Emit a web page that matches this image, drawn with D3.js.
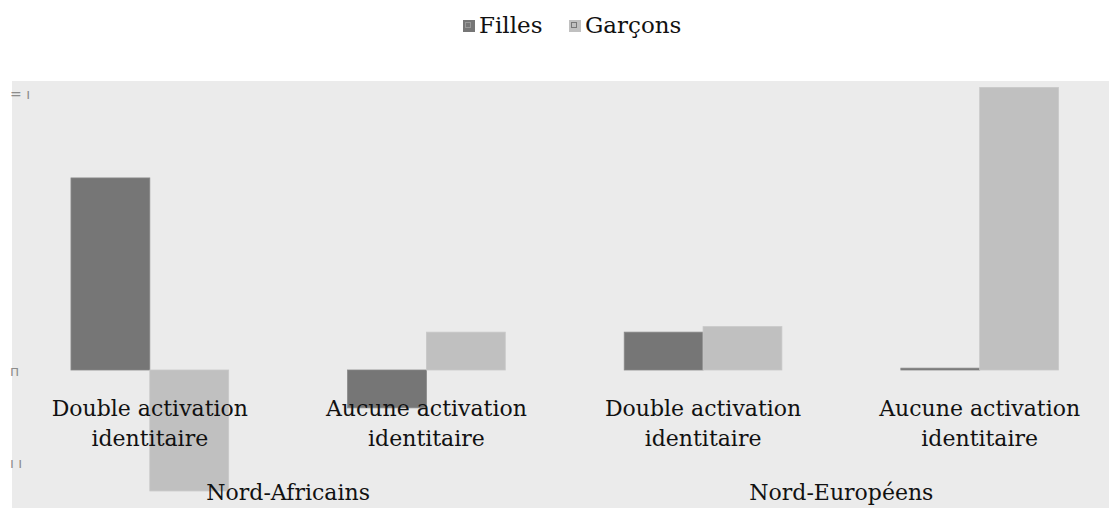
<!DOCTYPE html>
<html>
<head>
<meta charset="utf-8">
<script src="https://cdn.jsdelivr.net/npm/d3@7"></script>
<style>
  body { margin: 0; background: #fff; }
  text { font-family: "DejaVu Serif", serif; }
</style>
</head>
<body>
<script>
'use strict';

// categories and values
const groups = ["Nord-Africains", "Nord-Européens"];
const categories = ["Double activation identitaire", "Aucune activation identitaire"];
const series = ["Filles", "Garçons"];
const filles = [0.208, -0.041, 0.041, 0.002];
const garcons = [-0.131, 0.041, 0.047, 0.306];
const colors = { "Filles": "#767676", "Garçons": "#c0c0c0" };
// y tick labels are clipped to little stubs in the original
const yTicks = [0.3, 0, -0.1];
const yTickStubs = ["= ı", "п", "ı ı"];

(function() {
  const W = 1109, H = 508;
  const svg = d3.select('body').append('svg')
    .attr('width', W)
    .attr('height', H);

  // one slot per group/category pair
  let slots = [];
  groups.forEach((g, gi) => categories.forEach((c, ci) => slots.push({ g: g, c: c, i: gi * 2 + ci })));

  const x = d3.scaleBand()
    .domain(slots.map(d => d.i))
    .range([11.5, 1118])
    .paddingInner(0.43)
    .paddingOuter(0.215);

  const xs = d3.scaleBand()
    .domain(series)
    .range([0, x.bandwidth()]);

  const y = d3.scaleLinear()
    .domain([0, 0.3])
    .range([370, 93]);

  // plot background
  svg.append('rect')
    .attr('x', 12).attr('y', 81)
    .attr('width', W - 12).attr('height', H - 81)
    .attr('fill', '#ebebeb');

  // bars
  const rows = slots.map(d => ({ i: d.i, Filles: filles[d.i], "Garçons": garcons[d.i] }));
  series.forEach(s => {
    svg.append('g').selectAll('rect')
      .data(rows)
      .enter()
      .append('rect')
        .attr('x', d => x(d.i) + xs(s))
        .attr('width', xs.bandwidth())
        .attr('y', d => Math.min(y(d[s]), y(0)))
        .attr('height', d => Math.max(1.5, Math.abs(y(d[s]) - y(0))))
        .attr('fill', colors[s])
        .attr('stroke', s === "Filles" ? '#888' : '#c8c8c8')
        .attr('stroke-width', 0.8);
  });

  // clipped y tick stubs
  svg.append('g').selectAll('text')
    .data(yTicks)
    .enter()
    .append('text')
      .attr('x', 10)
      .attr('y', d => y(d) + 6)
      .attr('fill', '#8c8c8c')
      .style('font-family', 'DejaVu Sans')
      .style('font-size', '14px')
      .text((d, i) => yTickStubs[i]);

  // category labels, two lines
  slots.forEach(d => {
    const words = d.c.split(' ');
    const cx = x(d.i) + x.bandwidth() / 2;
    const t = svg.append('text')
      .attr('x', cx)
      .attr('y', 416)
      .attr('text-anchor', 'middle')
      .style('font-size', '22px')
      .attr('fill', '#111');
    t.append('tspan').attr('x', cx).text(words[0] + ' ' + words[1]);
    t.append('tspan').attr('x', cx).attr('dy', 30).text(words[2]);
  });

  // group labels
  groups.forEach((g, gi) => {
    const a = x(gi * 2), b = x(gi * 2 + 1) + x.bandwidth();
    svg.append('text')
      .attr('x', (a + b) / 2)
      .attr('y', 500)
      .attr('text-anchor', 'middle')
      .style('font-size', '22px')
      .attr('fill', '#111')
      .text(g);
  });

  // legend
  const legend = [{ s: "Filles", x: 463 }, { s: "Garçons", x: 569 }];
  legend.forEach(l => {
    svg.append('rect')
      .attr('x', l.x).attr('y', 20)
      .attr('width', 12).attr('height', 12)
      .attr('fill', colors[l.s]);
    svg.append('rect')
      .attr('x', l.x + 2.5).attr('y', 22.5)
      .attr('width', 5).attr('height', 5)
      .attr('fill', 'none')
      .attr('stroke', l.s === "Filles" ? '#999' : '#777')
      .attr('stroke-width', 1);
    svg.append('text')
      .attr('x', l.x + 16)
      .attr('y', 33)
      .style('font-size', '23px')
      .attr('fill', '#111')
      .text(l.s);
  });
})();
</script>
</body>
</html>
